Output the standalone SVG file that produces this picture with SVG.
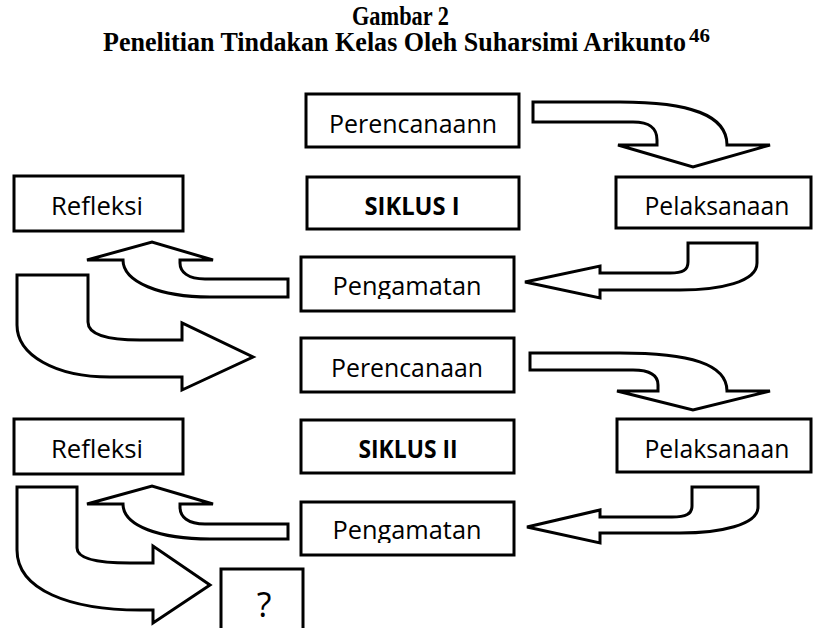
<svg xmlns="http://www.w3.org/2000/svg" width="813" height="628" viewBox="0 0 813 628">
<style>
.box{fill:#fff;stroke:#000;stroke-width:3}
.arr{fill:#fff;stroke:#000;stroke-width:3;stroke-linejoin:miter}
.t{font-family:"Open Sans","Liberation Sans",sans-serif;font-size:25px;fill:#000;text-anchor:middle}
.b{font-weight:bold}
.q{font-size:34px}
.title{font-family:"Liberation Serif","Times New Roman",serif;font-weight:bold;font-size:28px;fill:#000}
.sup{font-size:18px}
</style>
<defs>
<clipPath id="clip1"><rect x="303" y="259" width="209" height="40"/></clipPath>
<clipPath id="clip2"><rect x="303" y="504" width="209" height="39"/></clipPath>
</defs>
<rect width="813" height="628" fill="#fff"/>
<g id="title">
<text class="title" x="352" y="25" textLength="97" lengthAdjust="spacingAndGlyphs">Gambar 2</text>
<text class="title" x="103" y="51" textLength="583" lengthAdjust="spacingAndGlyphs">Penelitian Tindakan Kelas Oleh Suharsimi Arikunto</text>
<text class="title sup" x="689" y="42" textLength="21" lengthAdjust="spacingAndGlyphs">46</text>
</g>
<g id="connectors">
<path class="arr" d="M533,102 L620,102 C690,102 727,115 727,145 L770,145 L693,167 L618,145 L657,145 L657,140 C657,128 650,122 633,122 L533,122 Z"/>
<path class="arr" d="M688,243 L757,243 L757,263 C757,282 720,290 680,290 L600,290 L600,298 L525,282 L600,266 L600,273 L670,273 C683,273 688,270 688,262 Z"/>
<path class="arr" d="M288,279 L205,279 C188,279 180,272 180,263 L180,260 L213,260 L152,242 L87,260 L123,260 C123,282 160,297 210,297 L288,297 Z"/>
<path class="arr" d="M17,275 L88,275 L88,322 C88,334 105,340 140,340 L182,340 L182,323 L253,357 L182,390 L182,377 L110,377 C55,377 17,355 17,325 Z"/>
<path class="arr" d="M530,353 L620,353 C690,353 727,364 727,391 L770,391 L693,410 L617,391 L658,391 L658,385 C658,375 650,370 633,370 L530,370 Z"/>
<path class="arr" d="M692,487 L758,487 L758,507 C758,525 720,533 680,533 L600,533 L600,543 L527,527 L600,510 L600,517 L672,517 C686,517 692,514 692,506 Z"/>
<path class="arr" d="M288,524 L205,524 C188,524 180,517 180,507 L180,504 L213,504 L152,486 L87,504 L123,504 C123,526 160,539 210,539 L288,539 Z"/>
<path class="arr" d="M17,487 L77,487 L77,548 C77,558 95,563 130,563 L153,563 L153,546 L210,585 L153,623 L153,610 L140,610 C70,610 17,590 17,550 Z"/>
</g>
<g id="perencanaan1">
<rect class="box" x="306" y="94" width="213" height="53"/>
<text class="t" x="413" y="133" textLength="168" lengthAdjust="spacingAndGlyphs">Perencanaann</text>
</g>
<g id="siklus1">
<rect class="box" x="307" y="177" width="212" height="52"/>
<text class="t b" x="412" y="215" textLength="95" lengthAdjust="spacingAndGlyphs">SIKLUS I</text>
</g>
<g id="pelaksanaan1">
<rect class="box" x="616" y="177" width="195" height="51"/>
<text class="t" x="717" y="215" textLength="145" lengthAdjust="spacingAndGlyphs">Pelaksanaan</text>
</g>
<g id="refleksi1">
<rect class="box" x="14" y="176" width="169" height="55"/>
<text class="t" x="97" y="215" textLength="92" lengthAdjust="spacingAndGlyphs">Refleksi</text>
</g>
<g id="pengamatan1">
<rect class="box" x="301" y="257" width="213" height="54"/>
<text class="t" x="407" y="295" textLength="149" lengthAdjust="spacingAndGlyphs" clip-path="url(#clip1)">Pengamatan</text>
</g>
<g id="perencanaan2">
<rect class="box" x="301" y="338" width="213" height="54"/>
<text class="t" x="407" y="377" textLength="152" lengthAdjust="spacingAndGlyphs">Perencanaan</text>
</g>
<g id="refleksi2">
<rect class="box" x="14" y="419" width="169" height="55"/>
<text class="t" x="97" y="458" textLength="92" lengthAdjust="spacingAndGlyphs">Refleksi</text>
</g>
<g id="siklus2">
<rect class="box" x="301" y="420" width="213" height="53"/>
<text class="t b" x="408" y="458" textLength="99" lengthAdjust="spacingAndGlyphs">SIKLUS II</text>
</g>
<g id="pelaksanaan2">
<rect class="box" x="617" y="419" width="194" height="53"/>
<text class="t" x="717" y="458" textLength="145" lengthAdjust="spacingAndGlyphs">Pelaksanaan</text>
</g>
<g id="pengamatan2">
<rect class="box" x="301" y="502" width="213" height="53"/>
<text class="t" x="407" y="539" textLength="149" lengthAdjust="spacingAndGlyphs" clip-path="url(#clip2)">Pengamatan</text>
</g>
<g id="question">
<rect class="box" x="221" y="569" width="82" height="70"/>
<text class="t q" x="264" y="617">?</text>
</g>
</svg>
